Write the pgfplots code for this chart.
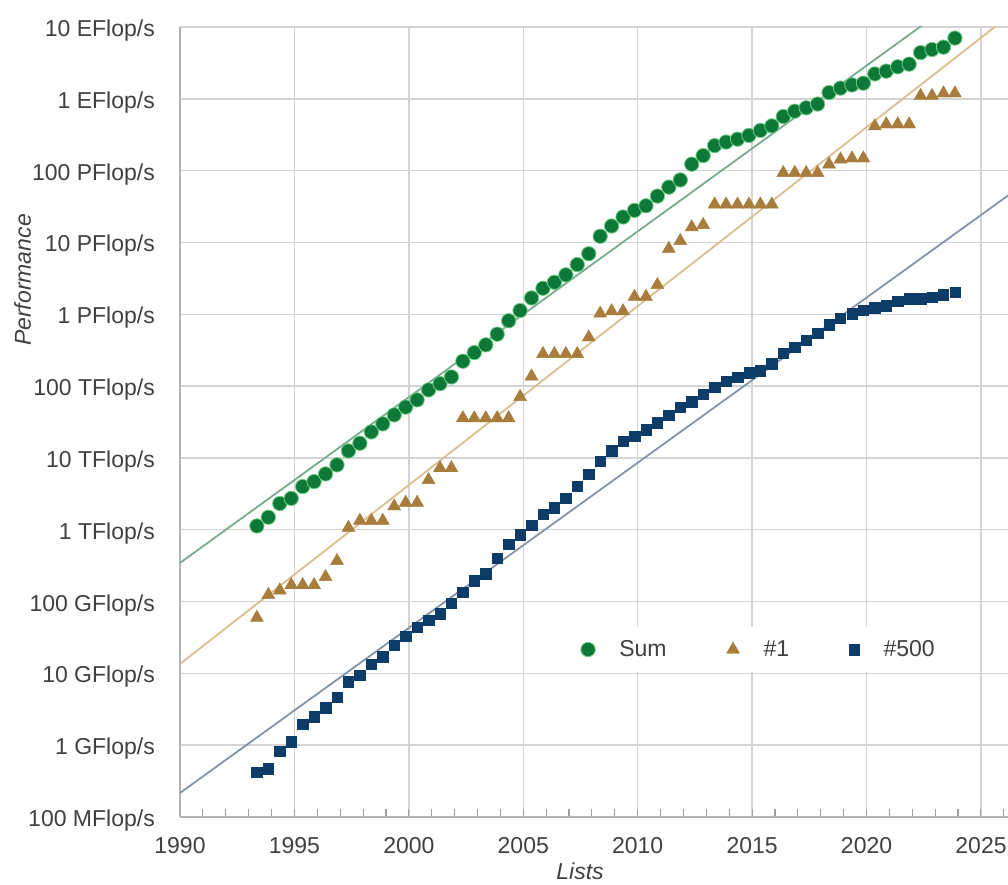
\documentclass[border=0pt]{standalone}
\usepackage{fontspec}
\setmainfont{Liberation Sans}
\usepackage{pgfplots}
\usepackage{pgfplotstable}
\pgfplotsset{compat=1.18}
\definecolor{sumc}{RGB}{14,120,56}
\definecolor{sumhalo}{RGB}{110,205,130}
\definecolor{onec}{RGB}{168,124,58}
\definecolor{lastc}{RGB}{14,60,105}
\definecolor{sumline}{RGB}{120,172,140}
\definecolor{oneline}{RGB}{218,190,145}
\definecolor{lastline}{RGB}{132,148,168}
\definecolor{gridc}{RGB}{212,212,212}
\definecolor{labc}{RGB}{64,64,64}

% year  sum(GFlop/s)  first(GFlop/s)  last(GFlop/s)
\pgfplotstableread{
year sum first last
1993.36 1128 59.7 0.422
1993.86 1493 124 0.472
1994.36 2317 143.4 0.822
1994.86 2732 170 1.114
1995.36 3994 170 1.955
1995.86 4680 170 2.489
1996.36 5980 220.4 3.306
1996.86 8000 368.2 4.62
1997.36 12500 1068 7.67
1997.86 16000 1338 9.51
1998.36 23000 1338 13.39
1998.86 29800 1338 17.1
1999.36 39700 2121 24.73
1999.86 51000 2379 33.1
2000.36 64300 2379 43.82
2000.86 88500 4938 55.1
2001.36 108000 7226 67.78
2001.86 134000 7226 94.3
2002.36 222000 35860 134.3
2002.86 293000 35860 195.8
2003.36 375000 35860 245.1
2003.86 528000 35860 403.4
2004.36 813000 35860 624
2004.86 1127000 70720 850.6
2005.36 1690000 136800 1166
2005.86 2300000 280600 1646
2006.36 2790000 280600 2026
2006.86 3540000 280600 2737
2007.36 4920000 280600 4005
2007.86 6970000 478200 5929
2008.36 12200000 1026000 9000
2008.86 16950000 1105000 12640
2009.36 22600000 1105000 17090
2009.86 27950000 1759000 20050
2010.36 32400000 1759000 24670
2010.86 44200000 2566000 31120
2011.36 58900000 8162000 39090
2011.86 74200000 10510000 50940
2012.36 123000000 16320000 60820
2012.86 162000000 17590000 76500
2013.36 223000000 33860000 96620
2013.86 250000000 33860000 117800
2014.36 274000000 33860000 133700
2014.86 309000000 33860000 153400
2015.36 363000000 33860000 164800
2015.86 420000000 33860000 206300
2016.36 567000000 93010000 285900
2016.86 672000000 93010000 349300
2017.36 749000000 93010000 432200
2017.86 845000000 93010000 548300
2018.36 1220000000 122300000 715600
2018.86 1410000000 143500000 874800
2019.36 1560000000 148600000 1022000
2019.86 1650000000 148600000 1142000
2020.36 2220000000 415500000 1228000
2020.86 2430000000 442000000 1317000
2021.36 2790000000 442000000 1511000
2021.86 3040000000 442000000 1646000
2022.36 4400000000 1102000000 1649000
2022.86 4860000000 1102000000 1730000
2023.36 5240000000 1194000000 1870000
2023.86 7010000000 1194000000 2020000
}\topdata

\begin{document}
\begin{tikzpicture}
\begin{axis}[
  scale only axis, width=828pt, height=790pt,
  xmin=1990, xmax=2026.18,
  ymode=log, ymin=0.1, ymax=1e10,
  axis x line*=bottom, axis y line*=left,
  xtick={1990,1995,2000,2005,2010,2015,2020,2025},
  xticklabels={1990,1995,2000,2005,2010,2015,2020,2025},
  minor xtick={1991,...,2026},
  ytick={1e-1,1e0,1e1,1e2,1e3,1e4,1e5,1e6,1e7,1e8,1e9,1e10},
  yticklabels={100 MFlop/s,1 GFlop/s,10 GFlop/s,100 GFlop/s,1 TFlop/s,10 TFlop/s,100 TFlop/s,1 PFlop/s,10 PFlop/s,100 PFlop/s,1 EFlop/s,10 EFlop/s},
  yminorticks=false,
  xmajorgrids, ymajorgrids,
  major grid style={gridc, line width=1.4pt},
  tick align=inside, major tick length=0pt, minor tick length=8pt,
  minor tick style={gridc!75!black, line width=1.1pt},
  axis line style={gridc!85!black, line width=1.4pt},
  font=\fontsize{23}{27}\selectfont,
  ticklabel style={text=labc},
  xticklabel style={anchor=base, inner sep=0pt, yshift=-36pt},
  yticklabel style={anchor=base east, inner sep=0pt, xshift=-25pt, yshift=-9.5pt},
  legend columns=3,
  legend style={at={(0.699,0.212)}, anchor=center, draw=none, fill=white,
    inner xsep=22pt, inner ysep=12pt, font=\fontsize{23}{27}\selectfont, text=labc,
    /tikz/every odd column/.append style={column sep=22pt},
    /tikz/every even column/.append style={column sep=58pt}},
  legend image code/.code={\draw[mark repeat=2,mark phase=2,#1] plot coordinates {(0pt,0pt)(12pt,0pt)(24pt,0pt)};},
]
\addplot[sumline, line width=1.8pt, forget plot] coordinates {(1990,345) (2030,5.9e11)};
\addplot[oneline, line width=1.8pt, forget plot] coordinates {(1990,13.5) (2030,1.25e11)};
\addplot[lastline, line width=1.8pt, forget plot] coordinates {(1990,0.216) (2030,3.4e8)};
\addplot[only marks, mark=*, mark size=7.2pt, color=sumc, mark options={fill=sumc, draw=sumhalo, line width=0.8pt}] table[x=year, y=sum] {\topdata};
\addlegendentry{Sum}
\addplot[only marks, mark=triangle*, mark size=7.5pt, color=onec, mark options={fill=onec, draw=onec}] table[x=year, y=first] {\topdata};
\addlegendentry{\#1}
\addplot[only marks, mark=square*, mark size=5.2pt, color=lastc, mark options={fill=lastc, draw=lastc}] table[x=year, y=last] {\topdata};
\addlegendentry{\#500}
\end{axis}
\node[rotate=90, anchor=base, font=\fontsize{23}{27}\selectfont\itshape, text=labc] at (-149pt,537pt) {Performance};
\node[anchor=base, inner sep=1pt, font=\fontsize{23}{27}\selectfont\itshape, text=labc] at (400pt,-62pt) {Lists};
\pgfresetboundingbox
\path[use as bounding box] (-180pt,-67pt) rectangle (828pt,817pt);
\end{tikzpicture}
\end{document}
